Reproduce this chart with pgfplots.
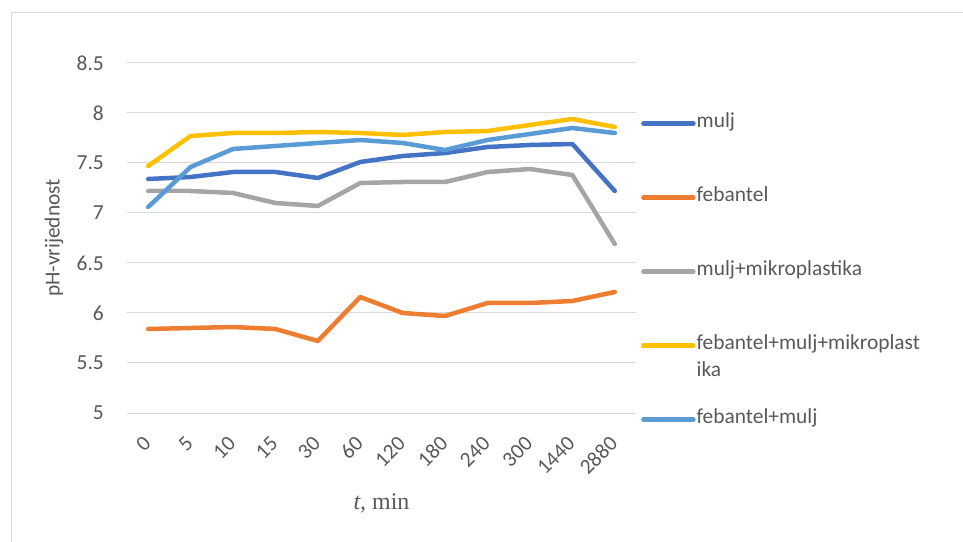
\documentclass[border=0pt]{standalone}
\usepackage{fontspec}
\setmainfont{Carlito}
\newfontfamily\timesf{Liberation Serif}
\usepackage{pgfplots}
\pgfplotsset{compat=1.18}
\definecolor{cmulj}{HTML}{4472C4}
\definecolor{cfeb}{HTML}{ED7D31}
\definecolor{cmm}{HTML}{A5A5A5}
\definecolor{cfmm}{HTML}{FFC000}
\definecolor{cfm}{HTML}{5B9BD5}
\definecolor{txt}{HTML}{595959}
\definecolor{gridc}{HTML}{D9D9D9}
\begin{document}
\begin{tikzpicture}
\useasboundingbox (0,0) rectangle (963bp,542bp);
\draw[gridc, line width=1bp] (11bp,0) -- (11bp,529bp) -- (963bp,529bp);
\begin{axis}[
    at={(127bp,129bp)}, anchor=south west,
    scale only axis, width=509bp, height=350bp,
    xmin=-0.5, xmax=11.5, ymin=5, ymax=8.5,
    ytick={5,5.5,...,8.5},
    xtick={0,...,11},
    xticklabels={0,5,10,15,30,60,120,180,240,300,1440,2880},
    axis line style={draw=none},
    major tick length=0pt,
    xmajorgrids=false, ymajorgrids=true,
    y grid style={gridc, line width=1bp},
    /pgf/number format/assume math mode=true,
    /pgf/number format/.cd, fixed, precision=1, /pgfplots/.cd,
    tick label style={font=\fontsize{21.5}{24}\selectfont, text=txt, inner sep=0pt},
    yticklabel style={anchor=east, xshift=-23bp},
    xticklabel style={xshift=-1bp, yshift=-27bp, rotate=45, anchor=east},
    ylabel={pH-vrijednost},
    ylabel style={font=\fontsize{21.5}{24}\selectfont, text=txt, at={(axis description cs:-0.1434,0.5)}, anchor=center},
    xlabel={{\timesf\itshape t}{\timesf, min}},
    xlabel style={font=\fontsize{24}{26}\selectfont, text=txt, at={(axis description cs:0.5,-0.257)}, anchor=center},
    every axis plot/.append style={line width=4.5bp, line cap=round, line join=round},
    legend image code/.code={\draw[#1] (2.5bp,0.34em) -- (52.5bp,0.34em);},
    legend cell align=left,
    legend style={draw=none, fill=none, inner sep=0pt,
        at={(1.0098,0.866)}, anchor=north west,
        font=\fontsize{21.5}{24}\selectfont, text=txt,
        row sep=51bp,
        nodes={inner sep=1bp, anchor=base west, text height=16bp, text depth=5bp},
        /tikz/every even column/.append style={column sep=1bp}},
]
\addplot[cmulj] coordinates {(0,7.34) (1,7.36) (2,7.41) (3,7.41) (4,7.35) (5,7.51) (6,7.57) (7,7.60) (8,7.66) (9,7.68) (10,7.69) (11,7.22)};
\addplot[cfeb] coordinates {(0,5.84) (1,5.85) (2,5.86) (3,5.84) (4,5.72) (5,6.16) (6,6.00) (7,5.97) (8,6.10) (9,6.10) (10,6.12) (11,6.21)};
\addplot[cmm] coordinates {(0,7.22) (1,7.22) (2,7.20) (3,7.10) (4,7.07) (5,7.30) (6,7.31) (7,7.31) (8,7.41) (9,7.44) (10,7.38) (11,6.69)};
\addplot[cfmm] coordinates {(0,7.47) (1,7.77) (2,7.80) (3,7.80) (4,7.81) (5,7.80) (6,7.78) (7,7.81) (8,7.82) (9,7.88) (10,7.94) (11,7.86)};
\addplot[cfm] coordinates {(0,7.06) (1,7.46) (2,7.64) (3,7.67) (4,7.70) (5,7.73) (6,7.70) (7,7.63) (8,7.73) (9,7.79) (10,7.85) (11,7.80)};
\legend{mulj, febantel, mulj+mikroplastika, {\begin{tabular}[t]{@{}l@{}}febantel+mulj+mikroplast\\[3bp]ika\end{tabular}}, febantel+mulj}
\end{axis}
\end{tikzpicture}
\end{document}
